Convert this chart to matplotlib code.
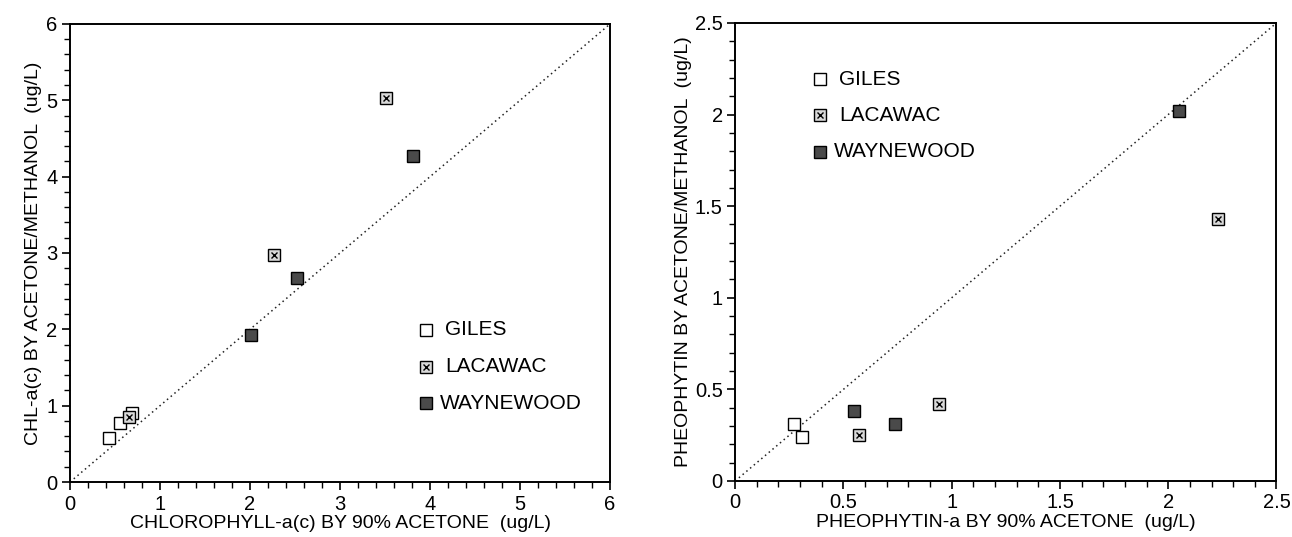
import matplotlib.pyplot as plt
from matplotlib.ticker import MultipleLocator

plt.rcParams['font.family'] = ['Liberation Sans', 'DejaVu Sans']

# --- left panel: chlorophyll-a(c) ---
chl_giles_x = [0.43, 0.55, 0.69]
chl_giles_y = [0.58, 0.77, 0.90]
chl_lacawac_x = [0.65, 2.27, 3.51]
chl_lacawac_y = [0.85, 2.98, 5.03]
chl_wayne_x = [2.01, 2.52, 3.81]
chl_wayne_y = [1.93, 2.67, 4.27]

# --- right panel: pheophytin-a ---
pheo_giles_x = [0.27, 0.31]
pheo_giles_y = [0.31, 0.24]
pheo_lacawac_x = [0.57, 0.94, 2.23]
pheo_lacawac_y = [0.25, 0.42, 1.43]
pheo_wayne_x = [0.55, 0.74, 2.05]
pheo_wayne_y = [0.38, 0.31, 2.02]

sites = ["GILES", "LACAWAC", "WAYNEWOOD"]

FS = 14.5      # tick labels
LFS = 14       # axis labels
GFS = 15       # legend text


def draw_site(ax, x, y, site, transform=None):
    kw = {} if transform is None else {"transform": transform, "clip_on": False}
    if site == "GILES":
        ax.plot(x, y, "s", ms=8, mfc="white", mec="black", mew=1.0,
                ls="none", **kw)
    elif site == "LACAWAC":
        ax.plot(x, y, "s", ms=8, mfc="#d8d8d8", mec="black", mew=1.0,
                ls="none", **kw)
        ax.plot(x, y, "x", ms=5, mec="black", mew=1.0, ls="none", **kw)
    else:
        ax.plot(x, y, "s", ms=8, mfc="#4a4a4a", mec="black", mew=1.0,
                ls="none", **kw)


def style_axes(ax, lim, major, minor):
    ax.set_xlim(0, lim)
    ax.set_ylim(0, lim)
    ax.plot([0, lim], [0, lim], color="#222222", lw=1.1,
            linestyle=(0, (1, 2.2)))
    ax.xaxis.set_major_locator(MultipleLocator(major))
    ax.yaxis.set_major_locator(MultipleLocator(major))
    ax.xaxis.set_minor_locator(MultipleLocator(minor))
    ax.yaxis.set_minor_locator(MultipleLocator(minor))
    ax.tick_params(which="major", direction="out", length=6, width=1.2,
                   labelsize=FS, pad=3, top=False, right=False)
    ax.tick_params(which="minor", direction="out", length=4, width=1.0,
                   top=False, right=False)
    for s in ax.spines.values():
        s.set_linewidth(1.4)
    ax.xaxis.set_major_formatter(plt.FuncFormatter(lambda v, p: f"{v:g}"))
    ax.yaxis.set_major_formatter(plt.FuncFormatter(lambda v, p: f"{v:g}"))


def legend(ax, x0, ys):
    for site, yy in zip(sites, ys):
        draw_site(ax, [x0], [yy], site, transform=ax.transAxes)
        ax.text(x0 + (0.025 if site == "WAYNEWOOD" else 0.035), yy, site,
                transform=ax.transAxes, fontsize=GFS, va="center", ha="left")


fig = plt.figure(figsize=(12.92, 5.37), dpi=100)
ax1 = fig.add_axes([0.0542, 0.1024, 0.418, 0.853])
ax2 = fig.add_axes([0.569, 0.1043, 0.419, 0.853])

style_axes(ax1, 6, 1, 0.2)
draw_site(ax1, chl_giles_x, chl_giles_y, "GILES")
draw_site(ax1, chl_lacawac_x, chl_lacawac_y, "LACAWAC")
draw_site(ax1, chl_wayne_x, chl_wayne_y, "WAYNEWOOD")
ax1.set_xlabel("CHLOROPHYLL-a(c) BY 90% ACETONE  (ug/L)", fontsize=LFS,
               labelpad=1)
ax1.set_ylabel("CHL-a(c) BY ACETONE/METHANOL  (ug/L)", fontsize=LFS,
               labelpad=3)
legend(ax1, 0.659, [0.332, 0.252, 0.172])

style_axes(ax2, 2.5, 0.5, 0.1)
draw_site(ax2, pheo_giles_x, pheo_giles_y, "GILES")
draw_site(ax2, pheo_lacawac_x, pheo_lacawac_y, "LACAWAC")
draw_site(ax2, pheo_wayne_x, pheo_wayne_y, "WAYNEWOOD")
ax2.set_xlabel("PHEOPHYTIN-a BY 90% ACETONE  (ug/L)", fontsize=LFS,
               labelpad=1)
ax2.set_ylabel("PHEOPHYTIN BY ACETONE/METHANOL  (ug/L)", fontsize=LFS,
               labelpad=2)
legend(ax2, 0.157, [0.877, 0.799, 0.719])

fig.savefig("out.png", dpi=100)
